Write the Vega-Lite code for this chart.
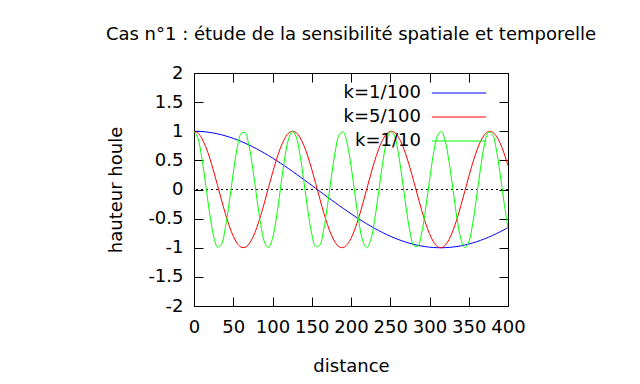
{
  "$schema": "https://vega.github.io/schema/vega-lite/v6.json",
  "width": 314,
  "height": 233,
  "autosize": {"type": "none"},
  "padding": {"left": 194, "top": 73, "right": 132, "bottom": 78},
  "background": "white",
  "title": {
    "text": "Cas n°1 : étude de la sensibilité spatiale et temporelle",
    "anchor": "middle",
    "font": "DejaVu Sans",
    "fontSize": 18,
    "fontWeight": "normal",
    "color": "black",
    "offset": 20
  },
  "config": {
    "view": {"stroke": "black", "strokeWidth": 1},
    "axis": {
      "grid": false,
      "domain": false,
      "tickColor": "black",
      "tickSize": -9,
      "tickWidth": 1,
      "labelColor": "black",
      "titleColor": "black",
      "labelFont": "DejaVu Sans",
      "titleFont": "DejaVu Sans",
      "labelFontSize": 18,
      "titleFontSize": 18,
      "titleFontWeight": "normal"
    },
    "legend": {
      "labelFont": "DejaVu Sans",
      "labelFontSize": 18,
      "labelColor": "black"
    }
  },
  "data": {
    "values": [
      {"x":0,"k=1/100":1,"k=5/100":1,"k=1/10":1},
      {"x":5,"k=1/100":0.9988,"k=5/100":0.9689,"k=1/10":0.8776},
      {"x":10,"k=1/100":0.995,"k=5/100":0.8776,"k=1/10":0.5403},
      {"x":15,"k=1/100":0.9888,"k=5/100":0.7317,"k=1/10":0.0707},
      {"x":20,"k=1/100":0.9801,"k=5/100":0.5403,"k=1/10":-0.4161},
      {"x":25,"k=1/100":0.9689,"k=5/100":0.3153,"k=1/10":-0.8011},
      {"x":30,"k=1/100":0.9553,"k=5/100":0.0707,"k=1/10":-0.99},
      {"x":35,"k=1/100":0.9394,"k=5/100":-0.1782,"k=1/10":-0.9365},
      {"x":40,"k=1/100":0.9211,"k=5/100":-0.4161,"k=1/10":-0.6536},
      {"x":45,"k=1/100":0.9004,"k=5/100":-0.6282,"k=1/10":-0.2108},
      {"x":50,"k=1/100":0.8776,"k=5/100":-0.8011,"k=1/10":0.2837},
      {"x":55,"k=1/100":0.8525,"k=5/100":-0.9243,"k=1/10":0.7087},
      {"x":60,"k=1/100":0.8253,"k=5/100":-0.99,"k=1/10":0.9602},
      {"x":65,"k=1/100":0.7961,"k=5/100":-0.9941,"k=1/10":0.9766},
      {"x":70,"k=1/100":0.7648,"k=5/100":-0.9365,"k=1/10":0.7539},
      {"x":75,"k=1/100":0.7317,"k=5/100":-0.8206,"k=1/10":0.3466},
      {"x":80,"k=1/100":0.6967,"k=5/100":-0.6536,"k=1/10":-0.1455},
      {"x":85,"k=1/100":0.66,"k=5/100":-0.4461,"k=1/10":-0.602},
      {"x":90,"k=1/100":0.6216,"k=5/100":-0.2108,"k=1/10":-0.9111},
      {"x":95,"k=1/100":0.5817,"k=5/100":0.0376,"k=1/10":-0.9972},
      {"x":100,"k=1/100":0.5403,"k=5/100":0.2837,"k=1/10":-0.8391},
      {"x":105,"k=1/100":0.4976,"k=5/100":0.5121,"k=1/10":-0.4764},
      {"x":110,"k=1/100":0.4536,"k=5/100":0.7087,"k=1/10":0.0044},
      {"x":115,"k=1/100":0.4085,"k=5/100":0.8612,"k=1/10":0.4833},
      {"x":120,"k=1/100":0.3624,"k=5/100":0.9602,"k=1/10":0.8439},
      {"x":125,"k=1/100":0.3153,"k=5/100":0.9994,"k=1/10":0.9978},
      {"x":130,"k=1/100":0.2675,"k=5/100":0.9766,"k=1/10":0.9075},
      {"x":135,"k=1/100":0.219,"k=5/100":0.893,"k=1/10":0.5949},
      {"x":140,"k=1/100":0.17,"k=5/100":0.7539,"k=1/10":0.1367},
      {"x":145,"k=1/100":0.1205,"k=5/100":0.5679,"k=1/10":-0.3549},
      {"x":150,"k=1/100":0.0707,"k=5/100":0.3466,"k=1/10":-0.7597},
      {"x":155,"k=1/100":0.0208,"k=5/100":0.1037,"k=1/10":-0.9785},
      {"x":160,"k=1/100":-0.0292,"k=5/100":-0.1455,"k=1/10":-0.9577},
      {"x":165,"k=1/100":-0.0791,"k=5/100":-0.3857,"k=1/10":-0.7023},
      {"x":170,"k=1/100":-0.1288,"k=5/100":-0.602,"k=1/10":-0.2751},
      {"x":175,"k=1/100":-0.1782,"k=5/100":-0.7808,"k=1/10":0.2194},
      {"x":180,"k=1/100":-0.2272,"k=5/100":-0.9111,"k=1/10":0.6603},
      {"x":185,"k=1/100":-0.2756,"k=5/100":-0.9848,"k=1/10":0.9395},
      {"x":190,"k=1/100":-0.3233,"k=5/100":-0.9972,"k=1/10":0.9887},
      {"x":195,"k=1/100":-0.3702,"k=5/100":-0.9476,"k=1/10":0.7958},
      {"x":200,"k=1/100":-0.4161,"k=5/100":-0.8391,"k=1/10":0.4081},
      {"x":205,"k=1/100":-0.4611,"k=5/100":-0.6783,"k=1/10":-0.0796},
      {"x":210,"k=1/100":-0.5048,"k=5/100":-0.4764,"k=1/10":-0.5477},
      {"x":215,"k=1/100":-0.5474,"k=5/100":-0.2433,"k=1/10":-0.8818},
      {"x":220,"k=1/100":-0.5885,"k=5/100":0.0044,"k=1/10":-1},
      {"x":225,"k=1/100":-0.6282,"k=5/100":0.2517,"k=1/10":-0.8734},
      {"x":230,"k=1/100":-0.6663,"k=5/100":0.4833,"k=1/10":-0.5328},
      {"x":235,"k=1/100":-0.7027,"k=5/100":0.6848,"k=1/10":-0.0619},
      {"x":240,"k=1/100":-0.7374,"k=5/100":0.8439,"k=1/10":0.4242},
      {"x":245,"k=1/100":-0.7702,"k=5/100":0.9504,"k=1/10":0.8064},
      {"x":250,"k=1/100":-0.8011,"k=5/100":0.9978,"k=1/10":0.9912},
      {"x":255,"k=1/100":-0.8301,"k=5/100":0.9832,"k=1/10":0.9333},
      {"x":260,"k=1/100":-0.8569,"k=5/100":0.9075,"k=1/10":0.6469},
      {"x":265,"k=1/100":-0.8816,"k=5/100":0.7753,"k=1/10":0.2021},
      {"x":270,"k=1/100":-0.9041,"k=5/100":0.5949,"k=1/10":-0.2921},
      {"x":275,"k=1/100":-0.9243,"k=5/100":0.3776,"k=1/10":-0.7149},
      {"x":280,"k=1/100":-0.9422,"k=5/100":0.1367,"k=1/10":-0.9626},
      {"x":285,"k=1/100":-0.9578,"k=5/100":-0.1126,"k=1/10":-0.9746},
      {"x":290,"k=1/100":-0.971,"k=5/100":-0.3549,"k=1/10":-0.7481},
      {"x":295,"k=1/100":-0.9817,"k=5/100":-0.5752,"k=1/10":-0.3383},
      {"x":300,"k=1/100":-0.99,"k=5/100":-0.7597,"k=1/10":0.1543},
      {"x":305,"k=1/100":-0.9958,"k=5/100":-0.897,"k=1/10":0.609},
      {"x":310,"k=1/100":-0.9991,"k=5/100":-0.9785,"k=1/10":0.9147},
      {"x":315,"k=1/100":-1,"k=5/100":-0.9991,"k=1/10":0.9965},
      {"x":320,"k=1/100":-0.9983,"k=5/100":-0.9577,"k=1/10":0.8342},
      {"x":325,"k=1/100":-0.9941,"k=5/100":-0.8567,"k=1/10":0.4677},
      {"x":330,"k=1/100":-0.9875,"k=5/100":-0.7023,"k=1/10":-0.0133},
      {"x":335,"k=1/100":-0.9784,"k=5/100":-0.5044,"k=1/10":-0.4911},
      {"x":340,"k=1/100":-0.9668,"k=5/100":-0.2751,"k=1/10":-0.8486},
      {"x":345,"k=1/100":-0.9528,"k=5/100":-0.0288,"k=1/10":-0.9983},
      {"x":350,"k=1/100":-0.9365,"k=5/100":0.2194,"k=1/10":-0.9037},
      {"x":355,"k=1/100":-0.9178,"k=5/100":0.454,"k=1/10":-0.5878},
      {"x":360,"k=1/100":-0.8968,"k=5/100":0.6603,"k=1/10":-0.128},
      {"x":365,"k=1/100":-0.8735,"k=5/100":0.8256,"k=1/10":0.3632},
      {"x":370,"k=1/100":-0.8481,"k=5/100":0.9395,"k=1/10":0.7654},
      {"x":375,"k=1/100":-0.8206,"k=5/100":0.995,"k=1/10":0.9802},
      {"x":380,"k=1/100":-0.791,"k=5/100":0.9887,"k=1/10":0.9551},
      {"x":385,"k=1/100":-0.7594,"k=5/100":0.9209,"k=1/10":0.6961},
      {"x":390,"k=1/100":-0.7259,"k=5/100":0.7958,"k=1/10":0.2666},
      {"x":395,"k=1/100":-0.6907,"k=5/100":0.6216,"k=1/10":-0.2281},
      {"x":400,"k=1/100":-0.6536,"k=5/100":0.4081,"k=1/10":-0.6669}
    ]
  },
  "transform": [
    {"fold": ["k=1/100", "k=5/100", "k=1/10"], "as": ["serie", "h"]}
  ],
  "resolve": {"axis": {"x": "independent", "y": "independent"}},
  "layer": [
    {
      "mark": {"type": "rule", "color": "black", "strokeWidth": 1, "strokeDash": [2, 3]},
      "encoding": {
        "y": {"datum": 0, "type": "quantitative", "axis": null}
      }
    },
    {
      "mark": {"type": "line", "strokeWidth": 1, "interpolate": "catmull-rom", "clip": true},
      "encoding": {
        "x": {
          "field": "x", "type": "quantitative",
          "scale": {"domain": [0, 400], "nice": false, "zero": false},
          "axis": {"orient": "bottom", "values": [0,50,100,150,200,250,300,350,400], "title": "distance", "labelPadding": 21, "titlePadding": 21, "labelFlush": false}
        },
        "y": {
          "field": "h", "type": "quantitative",
          "scale": {"domain": [-2, 2], "nice": false, "zero": false},
          "axis": {"orient": "left", "values": [-2,-1.5,-1,-0.5,0,0.5,1,1.5,2], "title": "hauteur houle", "labelExpr": "'' + datum.value", "labelPadding": 20, "titlePadding": 22, "labelFlush": false}
        },
        "color": {
          "field": "serie", "type": "nominal",
          "scale": {"domain": ["k=1/100", "k=5/100", "k=1/10"], "range": ["#0000ff", "#ff0000", "#00ff00"]},
          "legend": {
            "title": null,
            "orient": "none",
            "legendX": 256,
            "legendY": 11,
            "symbolType": "M-3.4,0H3.4",
            "symbolSize": 256,
            "symbolStrokeWidth": 1,
            "symbolFillColor": "transparent",
            "labelAlign": "right",
            "labelOffset": -47,
            "rowPadding": 6,
            "padding": 0
          }
        }
      }
    },
    {
      "mark": {"type": "line", "opacity": 0},
      "encoding": {
        "x": {"field": "x", "type": "quantitative", "axis": {"orient": "top", "values": [0,50,100,150,200,250,300,350,400], "labels": false, "title": null}},
        "y": {"field": "h", "type": "quantitative", "axis": {"orient": "right", "values": [-2,-1.5,-1,-0.5,0,0.5,1,1.5,2], "labels": false, "title": null}},
        "detail": {"field": "serie"}
      }
    }
  ]
}
